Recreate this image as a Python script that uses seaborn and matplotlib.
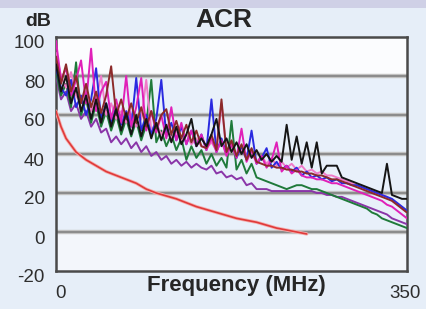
import matplotlib
matplotlib.use("Agg")
import matplotlib.pyplot as plt
import matplotlib.transforms as mtransforms
from matplotlib.patches import Rectangle
import seaborn as sns
import pandas as pd

# ---------------- data ----------------
freq = [0, 5, 10, 15, 20, 25, 30, 35, 40, 45,
        50, 55, 60, 65, 70, 75, 80, 85, 90, 95,
        100, 105, 110, 115, 120, 125, 130, 135, 140, 145,
        150, 155, 160, 165, 170, 175, 180, 185, 190, 195,
        200, 205, 210, 215, 220, 225, 230, 235, 240, 245,
        250, 255, 260, 265, 270, 275, 280, 285, 290, 295,
        300, 305, 310, 315, 320, 325, 330, 335, 340, 345,
        350]

pair_black = [86, 72, 80, 66, 74, 62, 70, 58, 68, 56,
              66, 54, 63, 52, 61, 50, 60, 49, 58, 48,
              56, 47, 55, 46, 54, 45, 50, 58, 44, 48,
              44, 50, 58, 44, 48, 41, 46, 40, 45, 38,
              42, 37, 40, 36, 39, 36, 55, 37, 49, 35,
              46, 33, 46, 30, 34, 34, 34, 28, 27, 26,
              25, 24, 23, 22, 21, 20, 35, 19, 18, 17,
              17]
pair_blue = [84, 74, 70, 78, 64, 70, 60, 68, 84, 58,
             66, 56, 64, 55, 62, 54, 79, 52, 60, 50,
             58, 78, 49, 56, 47, 54, 45, 52, 44, 50,
             42, 68, 41, 48, 40, 46, 38, 44, 37, 52,
             35, 38, 43, 33, 36, 32, 34, 31, 33, 29,
             31, 28, 29, 27, 28, 26, 27, 25, 25, 24,
             24, 23, 22, 21, 20, 19, 18, 17, 15, 13,
             11]
pair_magenta = [98, 78, 84, 70, 78, 88, 66, 94, 62, 72,
                77, 58, 68, 56, 80, 54, 64, 79, 52, 62,
                51, 60, 48, 64, 47, 56, 45, 52, 44, 50,
                42, 48, 41, 47, 39, 45, 38, 53, 36, 42,
                35, 39, 33, 37, 46, 31, 34, 30, 32, 29,
                28, 28, 27, 27, 26, 25, 25, 24, 23, 22,
                21, 20, 19, 18, 17, 16, 14, 13, 11, 9,
                7]
pair_pink = [92, 80, 74, 82, 70, 66, 72, 62, 68, 80,
             60, 66, 58, 62, 56, 60, 54, 58, 78, 52,
             56, 50, 54, 48, 52, 47, 50, 45, 48, 44,
             43, 46, 42, 66, 41, 44, 39, 42, 38, 41,
             36, 39, 35, 38, 34, 36, 33, 35, 32, 34,
             31, 32, 30, 31, 29, 29, 28, 27, 26, 25,
             24, 23, 22, 21, 20, 19, 18, 16, 14, 12,
             10]
pair_green = [82, 70, 76, 64, 87, 60, 68, 56, 66, 54,
              62, 52, 60, 50, 58, 49, 57, 47, 55, 78,
              46, 52, 44, 50, 42, 48, 37, 44, 38, 42,
              35, 40, 34, 38, 33, 57, 32, 37, 30, 35,
              28, 27, 26, 25, 24, 23, 22, 23, 24, 24,
              23, 22, 22, 21, 20, 19, 18, 17, 16, 15,
              14, 13, 12, 10, 9, 7, 6, 5, 4, 3,
              2]
pair_purple = [80, 68, 72, 62, 66, 58, 62, 54, 58, 51,
               53, 46, 49, 45, 48, 43, 46, 41, 44, 39,
               41, 37, 39, 35, 37, 34, 36, 33, 35, 33,
               32, 34, 30, 31, 28, 29, 27, 28, 24, 25,
               22, 22, 22, 21, 21, 21, 21, 21, 21, 21,
               21, 21, 20, 20, 19, 19, 18, 18, 17, 16,
               15, 14, 13, 12, 11, 10, 9, 7, 6, 5,
               4]
pair_brown = [90, 76, 86, 72, 80, 66, 76, 64, 72, 61,
              70, 85, 60, 68, 58, 66, 56, 64, 54, 62,
              53, 60, 63, 50, 57, 48, 55, 46, 52, 44,
              43, 50, 42, 68, 41, 47, 39, 45, 37, 43,
              36, 35, 34, 34, 33, 33, 32, 32, 31, 31,
              30, 30, 29, 29, 28, 27, 27, 26, 25, 24,
              23, 22, 21, 20, 19, 18, 17, 16, 14, 12,
              10]

limit_freq = [0, 5, 10, 20, 30, 40, 50, 60, 70, 80, 90, 100,
              120, 140, 160, 180, 200, 220, 240, 250]
limit_db = [62, 54, 48, 41, 37, 34, 31, 29, 27, 25, 22, 20,
            17, 13, 10, 7, 5, 2, 0, -1]

series_names = ["purple", "green", "pink", "blue", "magenta", "brown", "black"]
series_values = [pair_purple, pair_green, pair_pink, pair_blue, pair_magenta,
                 pair_brown, pair_black]
palette = {"purple": "#8a35a8", "green": "#1f7a3a", "pink": "#f07ac8",
           "blue": "#2a2ae0", "magenta": "#e020b8", "brown": "#8c2a2a",
           "black": "#151515"}

yticks = [100, 80, 60, 40, 20, 0, -20]
xtick_vals = [0, 350]
xtick_labels = ["0", "350"]

# ---------------- build table ----------------
rows = []
for name, vals in zip(series_names, series_values):
    for f, v in zip(freq, vals):
        rows.append({"freq": f, "db": v, "pair": name})
df = pd.DataFrame(rows)
df_limit = pd.DataFrame({"freq": limit_freq, "db": limit_db})

# ---------------- figure ----------------
sns.set_style("white")
plt.rcParams["font.family"] = ["Liberation Sans", "DejaVu Sans"]

W, H = 426, 309
fig = plt.figure(figsize=(W / 100, H / 100), dpi=100, facecolor="#e6eef8")
fig.patches.append(Rectangle((0, 1 - 8 / H), 1, 8 / H, transform=fig.transFigure,
                             facecolor="#cfd0e6", edgecolor="none", zorder=0))
ax = fig.add_axes([56 / W, 1 - 271 / H, (407 - 56) / W, (271 - 37) / H])
ax.set_facecolor("#e8f0fa")
ax.axhspan(80, 100, color="#fbfcfe", zorder=0, lw=0)
ax.axhspan(-20, 0, color="#f3f6fb", zorder=0, lw=0)

for g in [80, 60, 40, 20, 0]:
    ax.axhline(g, color="#c8c8c8", lw=3.2, zorder=1)
    ax.axhline(g, color="#8c8c8c", lw=1.6, zorder=1)

sns.lineplot(data=df, x="freq", y="db", hue="pair", hue_order=series_names,
             palette=palette, estimator=None, sort=False, legend=False,
             lw=1.4, ax=ax, zorder=3)
sns.lineplot(data=df_limit, x="freq", y="db", color="#f4b0b0", lw=2.4,
             estimator=None, ax=ax, zorder=4)
sns.lineplot(data=df_limit, x="freq", y="db", color="#e03a3a", lw=1.2,
             estimator=None, ax=ax, zorder=5)

ax.set_xlim(0, 350)
ax.set_ylim(-20, 100)
ax.set_yticks(yticks)
ax.set_yticklabels([str(t) for t in yticks])
ax.set_xticks(xtick_vals)
ax.set_xticklabels(xtick_labels)
ax.tick_params(axis="both", length=0, labelsize=13.5, labelcolor="#2e2e2e")
ax.tick_params(axis="y", pad=8)
ax.tick_params(axis="x", pad=10)
off = mtransforms.ScaledTranslation(0, -0.05, fig.dpi_scale_trans)
for lab in ax.get_yticklabels():
    lab.set_transform(lab.get_transform() + off)
xl = ax.get_xticklabels()
xl[0].set_transform(xl[0].get_transform() + mtransforms.ScaledTranslation(0.04, 0, fig.dpi_scale_trans))
xl[1].set_transform(xl[1].get_transform() + mtransforms.ScaledTranslation(-0.02, 0, fig.dpi_scale_trans))

for s in ax.spines.values():
    s.set_visible(True)
    s.set_color("#4a4a4a")
    s.set_linewidth(1.8)

ax.set_xlabel("Frequency (MHz)", fontsize=16, fontweight="bold", color="#262626")
ax.xaxis.set_label_coords((236 - 56) / 351, -15 / 234)
ax.xaxis.label.set_va("center")
ax.set_ylabel("")
ax.set_title("ACR", fontsize=19, fontweight="bold", color="#262626",
             x=(224 - 56) / 351, pad=7)
fig.text(38 / W, 1 - 21 / H, "dB", fontsize=14, fontweight="bold",
         color="#262626", ha="center", va="center")

fig.savefig("out.png", dpi=100, facecolor=fig.get_facecolor())
